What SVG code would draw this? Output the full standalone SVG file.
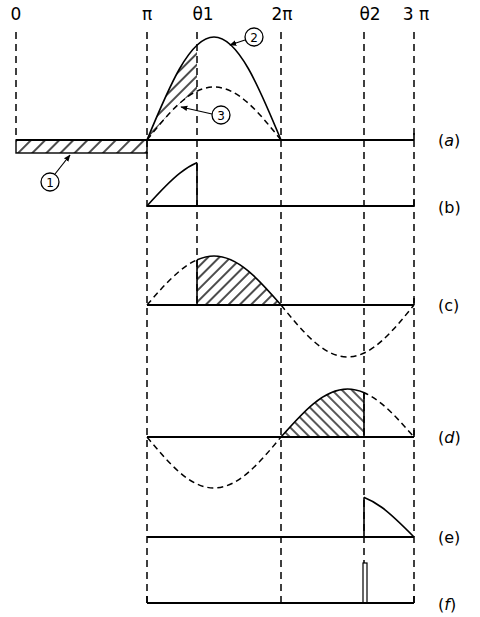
<svg xmlns="http://www.w3.org/2000/svg" width="480" height="617" viewBox="0 0 480 617">
<style>
.vd{stroke:#000;stroke-width:1.5;stroke-dasharray:7 5;fill:none}
.ax{stroke:#000;stroke-width:2.2;fill:none}
.cs{stroke:#000;stroke-width:1.6;fill:none}
.cd{stroke:#000;stroke-width:1.5;fill:none;stroke-dasharray:6 4}
.lb{font-family:"DejaVu Sans",sans-serif;font-size:17px;fill:#000}
.rl{font-family:"DejaVu Sans",sans-serif;font-size:16px;fill:#000}
.cn{font-family:"DejaVu Sans",sans-serif;font-size:12px;fill:#000;text-anchor:middle}
.ci{stroke:#000;stroke-width:1.3;fill:#fff}
.ar{stroke:#000;stroke-width:1.2;fill:none;marker-end:url(#ah)}
</style>
<defs>
<marker id="ah" viewBox="0 0 10 10" refX="9" refY="5" markerWidth="7" markerHeight="7" orient="auto" markerUnits="userSpaceOnUse"><path d="M0,1 L10,5 L0,9 z" fill="#000"/></marker>
<pattern id="hf" patternUnits="userSpaceOnUse" width="8" height="8" patternTransform="rotate(45)"><line x1="1" y1="0" x2="1" y2="8" stroke="#000" stroke-width="1.4"/></pattern>
<pattern id="hb" patternUnits="userSpaceOnUse" width="7" height="7" patternTransform="rotate(-45)"><line x1="1" y1="0" x2="1" y2="7" stroke="#000" stroke-width="1.3"/></pattern>
<pattern id="hw" patternUnits="userSpaceOnUse" width="10" height="10" patternTransform="rotate(45)"><line x1="1" y1="0" x2="1" y2="10" stroke="#000" stroke-width="1.4"/></pattern>
<clipPath id="l197"><rect x="0" y="0" width="197" height="617"/></clipPath>
<clipPath id="r197"><rect x="197" y="0" width="300" height="617"/></clipPath>
<clipPath id="l364"><rect x="0" y="0" width="364" height="617"/></clipPath>
<clipPath id="r364"><rect x="364" y="0" width="200" height="617"/></clipPath>
<clipPath id="m197"><rect x="197" y="0" width="84" height="617"/></clipPath>
<clipPath id="m281"><rect x="281" y="0" width="83" height="617"/></clipPath>
</defs>

<g id="top-labels">
<text class="lb" x="16" y="20" text-anchor="middle">0</text>
<text class="lb" x="147" y="20" text-anchor="middle">π</text>
<text class="lb" x="203" y="20" text-anchor="middle">θ1</text>
<text class="lb" x="282" y="20" text-anchor="middle">2π</text>
<text class="lb" x="370" y="20" text-anchor="middle">θ2</text>
<text class="lb" x="416" y="20" text-anchor="middle">3 π</text>
</g>

<g id="guides">
<line class="vd" x1="16" y1="32" x2="16" y2="140"/>
<line class="vd" x1="147" y1="32" x2="147" y2="603"/>
<line class="vd" x1="197" y1="32" x2="197" y2="305"/>
<line class="vd" x1="281" y1="32" x2="281" y2="603"/>
<line class="vd" x1="364" y1="32" x2="364" y2="563"/>
<line class="vd" x1="414" y1="32" x2="414" y2="603"/>
</g>

<g id="panel-a">
<rect x="16" y="140" width="131" height="13" fill="url(#hw)" stroke="#000" stroke-width="1.4"/>
<path fill="url(#hf)" stroke="none" clip-path="url(#l197)" d="M147,140 C168.8,87.3 189.7,37 214,37 C238.3,37 259.2,87.3 281,140 C259.2,112.9 238.3,87 214,87 C189.7,87 168.8,112.9 147,140 Z"/>
<path class="cs" d="M147,140 C168.8,87.3 189.7,37 214,37 C238.3,37 259.2,87.3 281,140"/>
<path class="cd" d="M147,140 C168.8,112.9 189.7,87 214,87 C238.3,87 259.2,112.9 281,140"/>
<line class="ax" x1="16" y1="140" x2="414" y2="140"/>
<line class="cs" x1="414" y1="133" x2="414" y2="140"/>
<text class="rl" x="438" y="146">(<tspan font-style="italic">a</tspan>)</text>
</g>

<g id="label-1">
<circle class="ci" cx="50" cy="182" r="9"/>
<text class="cn" x="50" y="186.5">1</text>
<line class="ar" x1="55" y1="174" x2="70" y2="155"/>
</g>
<g id="label-2">
<circle class="ci" cx="254" cy="37" r="9"/>
<text class="cn" x="254" y="41.5">2</text>
<line class="ar" x1="245" y1="40" x2="230" y2="45"/>
</g>
<g id="label-3">
<circle class="ci" cx="221" cy="115" r="9"/>
<text class="cn" x="221" y="119.5">3</text>
<line class="ar" x1="212" y1="114" x2="181" y2="107"/>
</g>

<g id="panel-b">
<path class="cs" clip-path="url(#l197)" d="M147,206 C168.8,181.9 189.7,159 214,159 C238.3,159 259.2,181.9 281,206"/>
<line class="cs" x1="197" y1="162.7" x2="197" y2="206"/>
<line class="ax" x1="147" y1="206" x2="414" y2="206"/>
<line class="cs" x1="414" y1="199" x2="414" y2="206"/>
<text class="rl" x="438" y="213">(b)</text>
</g>

<g id="panel-c">
<path fill="url(#hf)" stroke="none" clip-path="url(#m197)" d="M147,305 C168.8,279.9 189.7,256 214,256 C238.3,256 259.2,279.9 281,305 Z"/>
<path class="cd" clip-path="url(#l197)" d="M147,305 C168.8,279.9 189.7,256 214,256 C238.3,256 259.2,279.9 281,305"/>
<path class="cs" clip-path="url(#r197)" d="M147,305 C168.8,279.9 189.7,256 214,256 C238.3,256 259.2,279.9 281,305"/>
<line class="cs" x1="197" y1="259.8" x2="197" y2="305"/>
<path class="cd" d="M281,305 C302.7,331.6 323.4,357 347.5,357 C371.6,357 392.3,331.6 414,305"/>
<line class="ax" x1="147" y1="305" x2="414" y2="305"/>
<line class="cs" x1="414" y1="298" x2="414" y2="305"/>
<text class="rl" x="438" y="311">(c)</text>
</g>

<g id="panel-d">
<path class="cd" d="M147,437 C168.8,463.1 189.7,488 214,488 C238.3,488 259.2,463.1 281,437"/>
<path fill="url(#hb)" stroke="none" clip-path="url(#m281)" d="M281,437 C302.7,412.4 323.4,389 347.5,389 C371.6,389 392.3,412.4 414,437 Z"/>
<path class="cs" clip-path="url(#l364)" d="M281,437 C302.7,412.4 323.4,389 347.5,389 C371.6,389 392.3,412.4 414,437"/>
<path class="cd" clip-path="url(#r364)" d="M281,437 C302.7,412.4 323.4,389 347.5,389 C371.6,389 392.3,412.4 414,437"/>
<line class="cs" x1="364" y1="392.6" x2="364" y2="437"/>
<line class="ax" x1="147" y1="437" x2="414" y2="437"/>
<line class="cs" x1="414" y1="430" x2="414" y2="437"/>
<text class="rl" x="438" y="443">(<tspan font-style="italic">d</tspan>)</text>
</g>

<g id="panel-e">
<path class="cs" clip-path="url(#r364)" d="M281,537 C302.7,515 323.4,494 347.5,494 C371.6,494 392.3,515 414,537"/>
<line class="cs" x1="364" y1="497.2" x2="364" y2="537"/>
<line class="ax" x1="147" y1="537" x2="414" y2="537"/>
<text class="rl" x="438" y="543">(e)</text>
</g>

<g id="panel-f">
<rect x="363" y="563" width="4" height="40" fill="#fff" stroke="#000" stroke-width="1.2"/>
<line class="ax" x1="147" y1="603" x2="414" y2="603"/>
<line class="cs" x1="147" y1="596" x2="147" y2="603"/>
<line class="cs" x1="414" y1="596" x2="414" y2="603"/>
<text class="rl" x="438" y="610">(<tspan font-style="italic">f</tspan>)</text>
</g>
</svg>
